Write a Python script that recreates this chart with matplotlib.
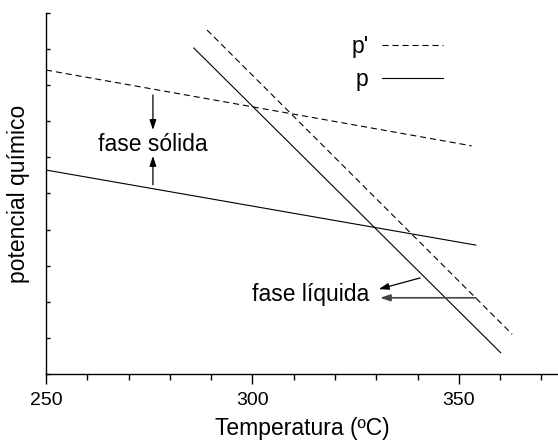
import matplotlib
matplotlib.use('Agg')
import matplotlib.pyplot as plt
from matplotlib.ticker import MultipleLocator, NullFormatter

plt.rcParams['font.family'] = ['Liberation Sans', 'DejaVu Sans']

# end points of the four straight lines (temperature, chemical potential in arbitrary units)
solid_p_prime_x = [250.0, 353.1]
solid_p_prime_y = [8.42, 6.32]
solid_p_x = [250.0, 354.1]
solid_p_y = [5.65, 3.57]
liquid_p_x = [285.8, 360.1]
liquid_p_y = [9.03, 0.59]
liquid_p_prime_x = [289.0, 362.9]
liquid_p_prime_y = [9.53, 1.10]

dash = (0, (5.5, 3.5))
fs = 16.5
tfs = 14

fig = plt.figure(figsize=(5.58, 4.41), dpi=100)
ax = fig.add_axes([0.0824, 0.152, 0.9176, 0.8185])

ax.plot(solid_p_prime_x, solid_p_prime_y, color='black', lw=0.8, ls=dash, label="p'")
ax.plot(solid_p_x, solid_p_y, color='black', lw=0.8, label='p')
ax.plot(liquid_p_x, liquid_p_y, color='black', lw=0.8)
ax.plot(liquid_p_prime_x, liquid_p_prime_y, color='black', lw=0.8, ls=dash)

arrow = dict(arrowstyle='-|>,head_length=0.6,head_width=0.2', color='black', lw=0.9, shrinkA=0, shrinkB=0)
ax.text(275.9, 6.37, 'fase sólida', fontsize=fs, ha='center', va='center')
ax.annotate('', xy=(275.9, 6.76), xytext=(275.9, 7.73), arrowprops=arrow)
ax.annotate('', xy=(275.9, 6.04), xytext=(275.9, 5.24), arrowprops=arrow)

ax.text(314.2, 2.19, 'fase líquida', fontsize=fs, ha='center', va='center')
ax.annotate('', xy=(330.6, 2.35), xytext=(340.6, 2.66), arrowprops=arrow)
arrow2 = dict(arrow, color='#444444', lw=1.2)
ax.annotate('', xy=(330.9, 2.11), xytext=(354.1, 2.11), arrowprops=arrow2)

ax.set_xlim(250, 374)
ax.set_ylim(0, 10)
ax.xaxis.set_major_locator(MultipleLocator(50))
ax.xaxis.set_minor_locator(MultipleLocator(10))
ax.yaxis.set_major_locator(MultipleLocator(1))
ax.yaxis.set_major_formatter(NullFormatter())
ax.tick_params(axis='x', which='major', direction='out', length=7, width=1, labelsize=tfs, pad=6)
ax.tick_params(axis='x', which='minor', direction='out', length=4, width=1)
ax.tick_params(axis='y', which='major', direction='in', length=3, width=1)
for s in ['top', 'right']:
    ax.spines[s].set_visible(False)
for s in ['left', 'bottom']:
    ax.spines[s].set_linewidth(1.0)

ax.set_xlabel('Temperatura (ºC)', fontsize=fs, labelpad=6)
ax.set_ylabel('potencial químico', fontsize=fs, labelpad=8)

ax.legend(loc='upper left', bbox_to_anchor=(0.596, 0.94), frameon=False, markerfirst=False,
          fontsize=fs, handlelength=2.65, handletextpad=0.6, labelspacing=0.45, borderpad=0,
          borderaxespad=0)

fig.savefig('out.png', dpi=100)
